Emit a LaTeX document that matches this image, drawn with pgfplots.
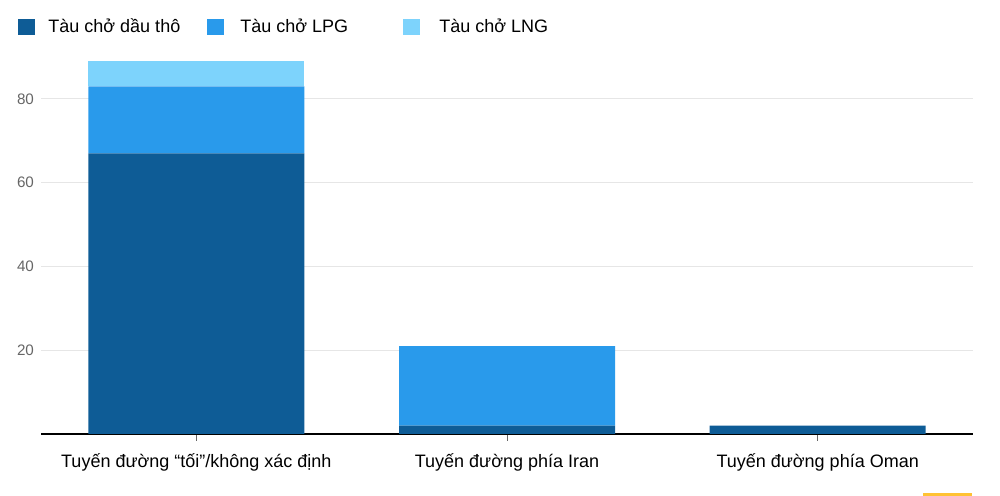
\documentclass[border=0pt]{standalone}
\usepackage{pgfplots}
\pgfplotsset{compat=1.18}
\usepackage{fontspec}
\setmainfont{Liberation Sans}
\definecolor{cDark}{HTML}{0E5C96}
\definecolor{cLPG}{HTML}{299AEB}
\definecolor{cLNG}{HTML}{7DD3FC}
\definecolor{cGrid}{HTML}{E6E6E6}
\definecolor{cTick}{HTML}{666666}
\begin{document}
\begin{tikzpicture}
\useasboundingbox (0,0) rectangle (500pt,248pt);
\begin{axis}[
  at={(20.5pt,31pt)}, anchor=south west,
  scale only axis, width=466pt, height=188.5pt,
  ybar stacked, bar width=108pt,
  xmin=-0.5, xmax=2.5, ymin=0, ymax=90,
  xtick=data,
  xticklabels={{Tuyến đường “tối”/không xác định},{Tuyến đường phía Iran},{Tuyến đường phía Oman}},
  ytick={20,40,60,80},
  ymajorgrids, grid style={cGrid, line width=0.5pt},
  axis x line*=bottom,
  y axis line style={draw=none},
  x axis line style={black, line width=1pt, -},
  tick align=outside,
  major tick length=3.5pt,
  xtick style={cTick, line width=0.4pt},
  ytick style={draw=none},
  xticklabel style={font=\fontsize{9}{11}\selectfont, text=black, yshift=-3pt},
  yticklabel style={font=\fontsize{7.6}{9}\selectfont, text=cTick, xshift=3.5pt},
  /pgf/number format/assume math mode=true,
  clip=false,
]
\addplot[fill=cDark, draw=none] coordinates {(0,67) (1,2) (2,2)};
\addplot[fill=cLPG, draw=none] coordinates {(0,16) (1,19) (2,0)};
\addplot[fill=cLNG, draw=none] coordinates {(0,6) (1,0) (2,0)};
\end{axis}
\begin{scope}[x=0.5pt, y=-0.5pt, shift={(0,248pt)}]
  \fill[cDark] (18,19) rectangle (35,35);
  \fill[cLPG] (207,19) rectangle (224,35);
  \fill[cLNG] (403,19) rectangle (420,35);
  \node[anchor=base west, inner sep=0, font=\fontsize{9}{11}\selectfont] at (48,32.5) {Tàu chở dầu thô};
  \node[anchor=base west, inner sep=0, font=\fontsize{9}{11}\selectfont] at (240,32.5) {Tàu chở LPG};
  \node[anchor=base west, inner sep=0, font=\fontsize{9}{11}\selectfont] at (439,32.5) {Tàu chở LNG};
  \fill[orange!60!yellow!80] (923,493) rectangle (972,496);
\end{scope}
\end{tikzpicture}
\end{document}
